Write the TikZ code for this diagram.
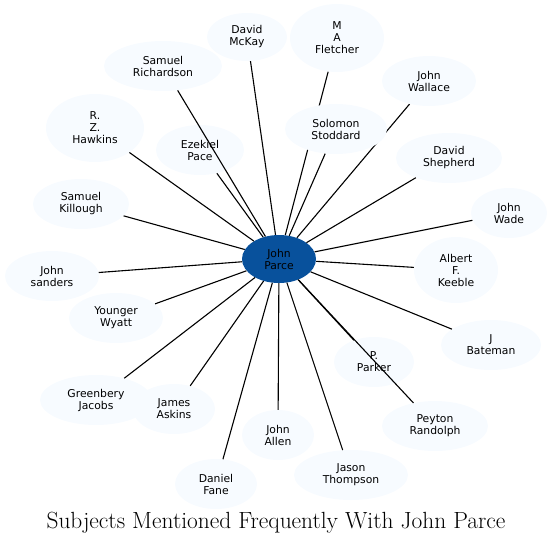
\documentclass[tikz,border=0pt]{standalone}
\usepackage{fontspec}
\newfontfamily\nodefont{DejaVu Sans}
\usetikzlibrary{shapes.geometric}
\definecolor{lightfill}{HTML}{F7FBFF}
\definecolor{centerfill}{HTML}{08519C}
\pgfdeclarelayer{background}
\pgfsetlayers{background,main}
\begin{document}
\begin{tikzpicture}[x=1pt,y=-1pt,
  pnode/.style 2 args={ellipse, fill=lightfill, draw=none, inner sep=0pt,
    minimum width=#1, minimum height=#2, align=center,
    font=\nodefont\fontsize{10.8}{12}\selectfont},
  hub/.style={pnode={74}{48}, fill=centerfill},
  link/.style={draw=black, line width=1.1pt}]
\useasboundingbox (0,0) rectangle (553,544);
\node[hub] (c) at (279,259) {John\\Parce};
\node[pnode={80}{48}] (mckay) at (247,37) {David\\McKay};
\node[pnode={94}{68}] (fletcher) at (337,38) {M\\A\\Fletcher};
\node[pnode={118}{50}] (richardson) at (163,66) {Samuel\\Richardson};
\node[pnode={94}{50}] (wallace) at (429,81) {John\\Wallace};
\node[pnode={98}{68}] (hawkins) at (95,128) {R.\\Z.\\Hawkins};
\node[pnode={88}{50}] (pace) at (200,150) {Ezekiel\\Pace};
\node[pnode={102}{50}] (stoddard) at (336,129) {Solomon\\Stoddard};
\node[pnode={106}{50}] (shepherd) at (449,158) {David\\Shepherd};
\node[pnode={96}{50}] (killough) at (81,204) {Samuel\\Killough};
\node[pnode={76}{50}] (wade) at (509,213) {John\\Wade};
\node[pnode={94}{50}] (sanders) at (52,276) {John\\sanders};
\node[pnode={84}{66}] (keeble) at (456,270) {Albert\\F.\\Keeble};
\node[pnode={94}{50}] (wyatt) at (116,318) {Younger\\Wyatt};
\node[pnode={100}{50}] (bateman) at (491,345) {J\\Bateman};
\node[pnode={80}{50}] (parker) at (374,362) {P.\\Parker};
\node[pnode={112}{50}] (jacobs) at (96,400) {Greenbery\\Jacobs};
\node[pnode={82}{50}] (askins) at (174,409) {James\\Askins};
\node[pnode={72}{50}] (allen) at (278,435) {John\\Allen};
\node[pnode={106}{50}] (randolph) at (435,426) {Peyton\\Randolph};
\node[pnode={82}{50}] (fane) at (216,484) {Daniel\\Fane};
\node[pnode={114}{50}] (thompson) at (351,475) {Jason\\Thompson};
\begin{pgfonlayer}{background}
\draw[link] (fletcher) -- (c);
\draw[link] (wallace) -- (c);
\end{pgfonlayer}
\foreach \n in {mckay,richardson,hawkins,pace,stoddard,shepherd,killough,wade,sanders,keeble,wyatt,bateman,parker,jacobs,askins,allen,randolph,fane,thompson}
  \draw[link] (\n) -- (c);
\node[anchor=base, font=\fontsize{23.4}{28}\selectfont] (title) at (276,528) {Subjects Mentioned Frequently With John Parce};
\end{tikzpicture}
\end{document}
